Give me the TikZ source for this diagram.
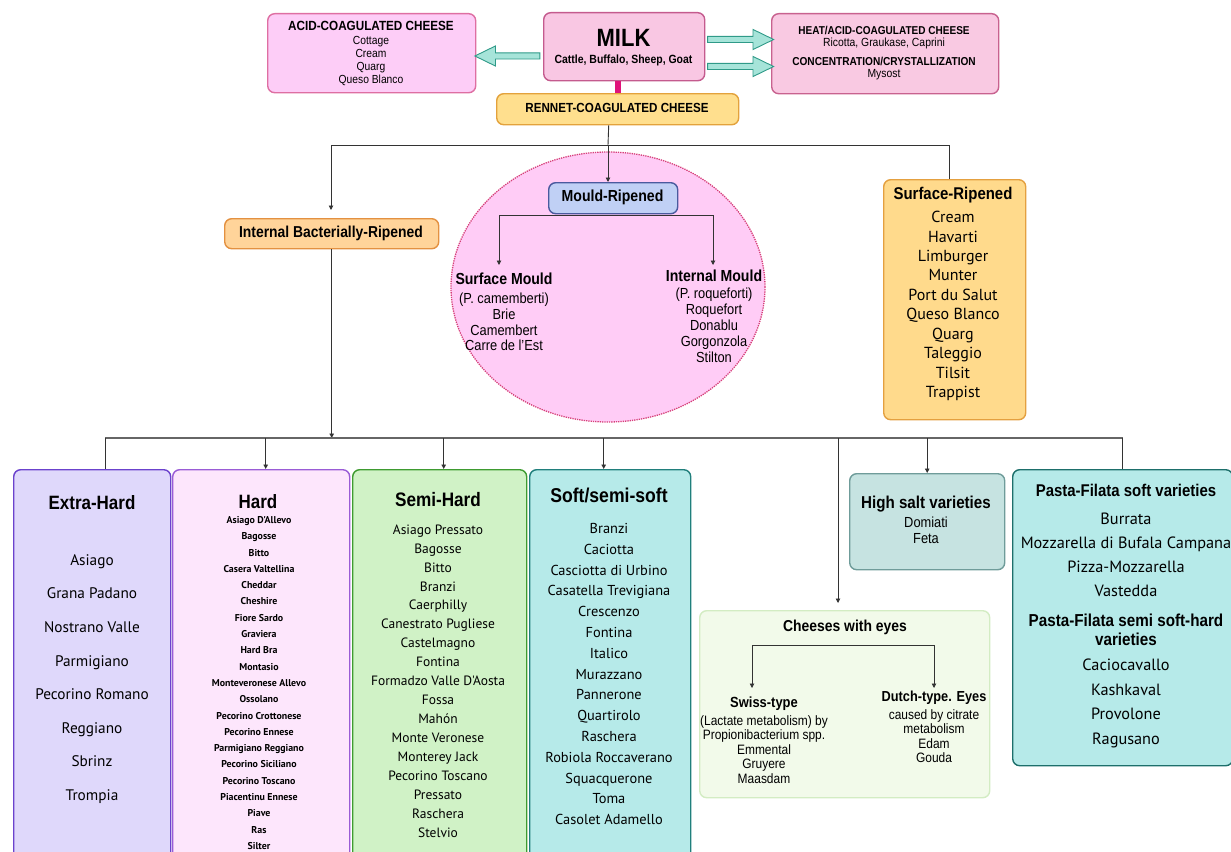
\documentclass[tikz,border=0pt]{standalone}
\usepackage{fontspec}
\setmainfont{Liberation Sans}[FakeStretch=0.88]
\newfontfamily\listfont{PT Sans}
\usetikzlibrary{arrows.meta,shapes.geometric,shapes.arrows}

\newcommand{\fsz}[2]{\fontsize{#1}{#2}\selectfont}

\begin{document}
\begin{tikzpicture}[x=1pt, y=-1pt,
  box/.style={rounded corners=7pt, line width=1.4pt, inner sep=0pt, anchor=north west},
  lbl/.style={inner sep=0pt, align=center},
  link/.style={draw=lineDark, line width=0.9pt},
  tip/.style={-{Triangle[length=4.5pt,width=4.5pt]}},
  bus/.style={draw=busGray, line width=1.8pt},
  fatarrow/.style={single arrow, draw=tealLine, fill=tealFill, line width=0.9pt,
    inner sep=2.6pt, single arrow head extend=7pt, single arrow tip angle=52,
    minimum width=19pt}
]

% Colori
\definecolor{acidFill}{HTML}{FDCDF7}
\definecolor{acidLine}{HTML}{DE6FA2}
\definecolor{milkFill}{HTML}{F9C7E3}
\definecolor{milkLine}{HTML}{C45B8E}
\definecolor{heatFill}{HTML}{F9C9E2}
\definecolor{heatLine}{HTML}{C8628F}
\definecolor{tealFill}{HTML}{A6E4D9}
\definecolor{tealLine}{HTML}{2F9A88}
\definecolor{magLine}{HTML}{E0137A}
\definecolor{rennetFill}{HTML}{FFDF8E}
\definecolor{rennetLine}{HTML}{E3A23C}
\definecolor{intFill}{HTML}{FFD49A}
\definecolor{intLine}{HTML}{E39141}
\definecolor{circFill}{HTML}{FFCCF6}
\definecolor{circLine}{HTML}{D6407A}
\definecolor{mouldFill}{HTML}{C0D0F5}
\definecolor{mouldLine}{HTML}{4A5A9E}
\definecolor{surfFill}{HTML}{FFDA8C}
\definecolor{surfLine}{HTML}{E4A040}
\definecolor{xhFill}{HTML}{DFD8FB}
\definecolor{xhLine}{HTML}{6B42CD}
\definecolor{hardFill}{HTML}{FDE6FC}
\definecolor{hardLine}{HTML}{9A5CD6}
\definecolor{semiFill}{HTML}{D0F2C6}
\definecolor{semiLine}{HTML}{3E9B30}
\definecolor{softFill}{HTML}{B6EAE9}
\definecolor{softLine}{HTML}{207F7C}
\definecolor{saltFill}{HTML}{C6E3E1}
\definecolor{saltLine}{HTML}{6F9C9A}
\definecolor{pastaFill}{HTML}{B6EAE9}
\definecolor{pastaLine}{HTML}{1D6F6B}
\definecolor{eyesFill}{HTML}{F2FAEA}
\definecolor{eyesLine}{HTML}{D3ECC3}
\definecolor{lineDark}{HTML}{333333}
\definecolor{busGray}{HTML}{666666}

% Cornice
\useasboundingbox (0,0) rectangle (1231,851);
\clip (0,0) rectangle (1231,851);

% Riga in alto: latte e coagulazione
\node[box, fill=acidFill, draw=acidLine, minimum width=208pt, minimum height=79pt] (acid) at (267,13) {};
\node[lbl, font=\bfseries\fsz{13.3}{15}] (acidT) at (371,26) {ACID-COAGULATED CHEESE};
\node[lbl, font=\fsz{11.7}{13}] (acidL) at (371,61) {Cottage\\Cream\\Quarg\\Queso Blanco};

\node[box, fill=milkFill, draw=milkLine, minimum width=161pt, minimum height=68pt] (milk) at (543,12) {};
\node[lbl, font=\bfseries\fsz{25}{27}] (milkT) at (623.5,38) {MILK};
\node[lbl, font=\bfseries\fsz{11.9}{13}] (milkL) at (623.5,60) {Cattle, Buffalo, Sheep, Goat};

\node[box, fill=heatFill, draw=heatLine, minimum width=227pt, minimum height=80pt] (heat) at (771,13) {};
\node[lbl, font=\bfseries\fsz{11.4}{13}] (heatT) at (884,30) {HEAT/ACID-COAGULATED CHEESE};
\node[lbl, font=\fsz{11.8}{13}] (heatL) at (884,43) {Ricotta, Graukase, Caprini};
\node[lbl, font=\bfseries\fsz{11.5}{13}] (concT) at (884,61) {CONCENTRATION/CRYSTALLIZATION};
\node[lbl, font=\fsz{11.8}{13}] (concL) at (884,75) {Mysost};

% Frecce larghe
\node[fatarrow, shape border rotate=180, minimum height=65pt] (toAcid) at (510.5,56) {};
\node[fatarrow, minimum height=66pt] (toHeat) at (737.5,39.5) {};
\node[fatarrow, minimum height=66pt] (toConc) at (737.5,66.5) {};

% Caglio
\node[box, fill=rennetFill, draw=rennetLine, minimum width=242pt, minimum height=31pt] (rennet) at (496,93) {};
\node[lbl, font=\bfseries\fsz{13.2}{15}] (rennetT) at (617,108) {RENNET-COAGULATED CHEESE};
\draw[magLine, line width=6pt] ([xshift=-6pt]milk.south) -- ([xshift=-6pt]milk.south |- rennet.north);

% Secondo livello
\node[box, fill=intFill, draw=intLine, minimum width=214pt, minimum height=30pt] (int) at (224,218) {};
\node[lbl, font=\bfseries\fsz{15.8}{17}] (intT) at (331,233) {Internal Bacterially-Ripened};

\node[ellipse, fill=circFill, draw=circLine, densely dotted, line width=1.3pt,
  minimum width=314pt, minimum height=270pt] (circ) at (608,287) {};
\node[box, fill=mouldFill, draw=mouldLine, minimum width=129pt, minimum height=31pt] (mould) at (548,182) {};
\node[lbl, font=\bfseries\fsz{16}{18}] (mouldT) at (612.5,197.5) {Mould-Ripened};

\node[lbl, font=\bfseries\fsz{16}{18}] (smT) at (504,279) {Surface Mould};
\node[lbl, font=\fsz{14.6}{15.7}] (smL) at (504,322) {(P. camemberti)\\Brie\\Camembert\\Carre de l'Est};
\node[lbl, font=\bfseries\fsz{16}{18}] (imT) at (714,276) {Internal Mould};
\node[lbl, font=\fsz{14.6}{16}] (imL) at (714,325.5) {(P. roqueforti)\\Roquefort\\Donablu\\Gorgonzola\\Stilton};

\node[box, fill=surfFill, draw=surfLine, minimum width=142pt, minimum height=240pt] (surf) at (883,179) {};
\node[lbl, font=\bfseries\fsz{17}{19}] (surfT) at (953,195) {Surface-Ripened};
\node[lbl, font=\listfont\fsz{16}{19.44}] (surfL) at (953,306) {Cream\\Havarti\\Limburger\\Munter\\Port du Salut\\Queso Blanco\\Quarg\\Taleggio\\Tilsit\\Trappist};

% Collegamenti del caglio
\coordinate (hubR) at (608,145);
\coordinate (intIn) at (331,210);
\coordinate (smIn) at (499,265);
\coordinate (imIn) at (713,265);
\draw[link] ([xshift=-9pt]rennet.south) -- (hubR);
\draw[link] (intIn |- hubR) -- ([xshift=-5pt]surf.north |- hubR);
\draw[link, tip] (intIn |- hubR) -- (intIn);
\draw[link, tip] (hubR) -- (hubR |- mould.north);
\draw[link] ([xshift=-5pt]surf.north |- hubR) -- ([xshift=-5pt]surf.north);
\draw[link, tip] ([yshift=-1pt]mould.south) -| (smIn);
\draw[link, tip] ([yshift=-1pt]mould.south) -| (imIn);

% Riga in basso
\node[box, fill=xhFill, draw=xhLine, minimum width=157pt, minimum height=400pt] (xhard) at (13,469) {};
\node[lbl, font=\bfseries\fsz{19.3}{21}] (xhardT) at (92,503) {Extra-Hard};
\node[lbl, font=\listfont\fsz{15.3}{33.6}] (xhardL) at (92,679) {Asiago\\Grana Padano\\Nostrano Valle\\Parmigiano\\Pecorino Romano\\Reggiano\\Sbrinz\\Trompia};

\node[box, fill=hardFill, draw=hardLine, minimum width=177pt, minimum height=400pt] (hard) at (172,469) {};
\node[lbl, font=\bfseries\fsz{19.3}{21}] (hardT) at (258,502) {Hard};
\node[lbl, font=\listfont\bfseries\fsz{9.9}{16.3}] (hardL) at (259,683) {Asiago D'Allevo\\Bagosse\\Bitto\\Casera Valtellina\\Cheddar\\Cheshire\\Fiore Sardo\\Graviera\\Hard Bra\\Montasio\\Monteveronese Allevo\\Ossolano\\Pecorino Crottonese\\Pecorino Ennese\\Parmigiano Reggiano\\Pecorino Siciliano\\Pecorino Toscano\\Piacentinu Ennese\\Piave\\Ras\\Silter};

\node[box, fill=semiFill, draw=semiLine, minimum width=174pt, minimum height=400pt] (semi) at (352,469) {};
\node[lbl, font=\bfseries\fsz{19.5}{21}] (semiT) at (438,500) {Semi-Hard};
\node[lbl, font=\listfont\fsz{13.5}{18.94}] (semiL) at (438,681) {Asiago Pressato\\Bagosse\\Bitto\\Branzi\\Caerphilly\\Canestrato Pugliese\\Castelmagno\\Fontina\\Formadzo Valle D'Aosta\\Fossa\\Mahón\\Monte Veronese\\Monterey Jack\\Pecorino Toscano\\Pressato\\Raschera\\Stelvio};

\node[box, fill=softFill, draw=softLine, minimum width=161pt, minimum height=400pt] (soft) at (529,469) {};
\node[lbl, font=\bfseries\fsz{20}{22}] (softT) at (609,495) {Soft/semi-soft};
\node[lbl, font=\listfont\fsz{14.4}{20.8}] (softL) at (609,674) {Branzi\\Caciotta\\Casciotta di Urbino\\Casatella Trevigiana\\Crescenzo\\Fontina\\Italico\\Murazzano\\Pannerone\\Quartirolo\\Raschera\\Robiola Roccaverano\\Squacquerone\\Toma\\Casolet Adamello};

\node[box, fill=saltFill, draw=saltLine, minimum width=155pt, minimum height=96pt] (salt) at (849,473) {};
\node[lbl, font=\bfseries\fsz{17.2}{19}] (saltT) at (926,504) {High salt varieties};
\node[lbl, font=\fsz{14.6}{16}] (saltL) at (926,530.5) {Domiati\\Feta};

\node[box, fill=pastaFill, draw=pastaLine, minimum width=220pt, minimum height=296pt] (pasta) at (1012,469) {};
\node[lbl, font=\bfseries\fsz{17}{19}] (pastaT) at (1126,490) {Pasta-Filata soft varieties};
\node[lbl, font=\listfont\fsz{16.3}{24}] (pastaL) at (1126,554.5) {Burrata\\Mozzarella di Bufala Campana\\Pizza-Mozzarella\\Vastedda};
\node[lbl, font=\bfseries\fsz{17.3}{19}] (semiPT) at (1126,630) {Pasta-Filata semi soft-hard\\varieties};
\node[lbl, font=\listfont\fsz{16.3}{24.7}] (semiPL) at (1126,703.5) {Caciocavallo\\Kashkaval\\Provolone\\Ragusano};

\node[box, fill=eyesFill, draw=eyesLine, minimum width=290pt, minimum height=187pt] (eyes) at (699,610) {};
\node[lbl, font=\bfseries\fsz{15.8}{17}] (eyesT) at (845,627) {Cheeses with eyes};
\node[lbl, font=\bfseries\fsz{14.7}{16}] (swissT) at (764,704) {Swiss-type};
\node[lbl, font=\fsz{13.6}{14.5}] (swissL) at (764,749.5) {(Lactate metabolism) by\\Propionibacterium spp.\\Emmental\\Gruyere\\Maasdam};
\node[lbl, font=\bfseries\fsz{14.5}{16}] (dutchT) at (934,698) {Dutch-type. Eyes};
\node[lbl, font=\fsz{13.6}{14.3}] (dutchL) at (934,736) {caused by citrate\\metabolism\\Edam\\Gouda};

% Collegamenti in basso
\coordinate (busY) at (0,438);
\coordinate (eyesIn) at (838,603);
\coordinate (eyesBar) at (843,645);
\coordinate (swIn) at (752,688);
\coordinate (dtIn) at (934,688);
\draw[link, tip] (int.south) -- (int.south |- busY);
\draw[bus] ([xshift=13pt]xhard.north |- busY) -- (pasta.north |- busY);
\draw[link] ([xshift=13pt]xhard.north |- busY) -- ([xshift=13pt]xhard.north);
\draw[link, tip] ([xshift=4.5pt]hard.north |- busY) -- ([xshift=4.5pt]hard.north);
\draw[link, tip] ([xshift=4pt]semi.north |- busY) -- ([xshift=4pt]semi.north);
\draw[link, tip] ([xshift=-6.5pt]soft.north |- busY) -- ([xshift=-6.5pt]soft.north);
\draw[link, tip] (eyesIn |- busY) -- (eyesIn);
\draw[link, tip] (salt.north |- busY) -- (salt.north);
\draw[link] (pasta.north |- busY) -- (pasta.north);
\draw[link] (swIn |- eyesBar) -- (dtIn |- eyesBar);
\draw[link, tip] (swIn |- eyesBar) -- (swIn);
\draw[link, tip] (dtIn |- eyesBar) -- (dtIn);

\end{tikzpicture}
\end{document}
